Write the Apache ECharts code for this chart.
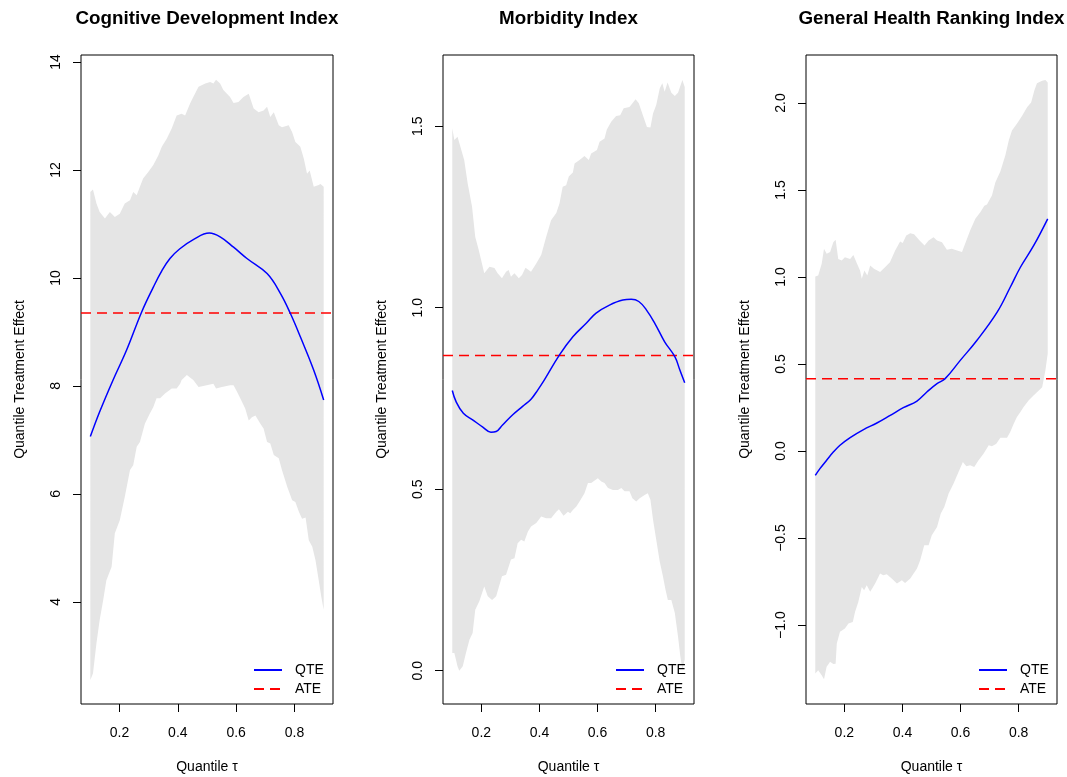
<!DOCTYPE html>
<html>
<head>
<meta charset="utf-8">
<title>Quantile Treatment Effects</title>
<script src="https://cdn.jsdelivr.net/npm/echarts@6/dist/echarts.min.js"></script>
<style>
  html, body { margin: 0; padding: 0; background: #fff; }
  #chart { width: 1067px; height: 777px; }
</style>
</head>
<body>
<div id="chart"></div>
<script>
// ---- data: quantile grid tau, [tau, value] pairs ----
const panelTitles = ['Cognitive Development Index', 'Morbidity Index', 'General Health Ranking Index'];
const xTicks = [0.2, 0.4, 0.6, 0.8];

// Cognitive Development Index
const cogUpper = [[0.100,11.59],[0.109,11.64],[0.121,11.38],[0.132,11.22],[0.150,11.10],[0.167,11.22],[0.184,11.13],[0.201,11.19],[0.218,11.38],[0.236,11.44],[0.247,11.59],[0.259,11.53],[0.270,11.69],[0.281,11.84],[0.298,11.96],[0.316,12.09],[0.333,12.27],[0.345,12.43],[0.362,12.58],[0.379,12.77],[0.396,13.01],[0.413,13.04],[0.425,13.01],[0.442,13.23],[0.453,13.35],[0.471,13.54],[0.494,13.60],[0.511,13.63],[0.522,13.60],[0.531,13.67],[0.545,13.60],[0.556,13.48],[0.579,13.35],[0.591,13.24],[0.608,13.26],[0.625,13.35],[0.643,13.41],[0.660,13.14],[0.677,13.07],[0.694,13.10],[0.706,13.17],[0.717,12.98],[0.729,13.07],[0.746,12.83],[0.757,12.79],[0.780,12.83],[0.792,12.70],[0.803,12.52],[0.820,12.43],[0.832,12.21],[0.843,11.93],[0.852,11.99],[0.866,11.69],[0.883,11.72],[0.889,11.74],[0.900,11.69]];
const cogLower = [[0.100,2.55],[0.109,2.67],[0.121,3.23],[0.132,3.66],[0.144,4.03],[0.155,4.40],[0.173,4.65],[0.184,5.27],[0.201,5.51],[0.218,5.94],[0.236,6.44],[0.247,6.53],[0.259,6.87],[0.270,6.96],[0.287,7.30],[0.304,7.49],[0.316,7.61],[0.327,7.77],[0.339,7.77],[0.356,7.86],[0.379,7.95],[0.396,7.95],[0.408,8.04],[0.413,8.11],[0.431,8.20],[0.453,8.11],[0.471,7.98],[0.499,8.01],[0.522,8.04],[0.531,7.95],[0.551,7.98],[0.579,8.01],[0.591,8.01],[0.603,7.89],[0.614,7.77],[0.631,7.58],[0.643,7.36],[0.654,7.42],[0.666,7.45],[0.683,7.30],[0.694,7.21],[0.706,6.96],[0.717,6.93],[0.729,6.72],[0.746,6.66],[0.757,6.44],[0.775,6.13],[0.792,5.88],[0.803,5.85],[0.815,5.67],[0.826,5.54],[0.838,5.56],[0.849,5.14],[0.861,5.02],[0.872,4.77],[0.883,4.40],[0.892,4.09],[0.900,3.85]];
const cogQte = [[0.100,7.06],[0.132,7.52],[0.178,8.11],[0.224,8.66],[0.276,9.37],[0.316,9.83],[0.345,10.13],[0.373,10.36],[0.407,10.54],[0.453,10.71],[0.508,10.83],[0.545,10.76],[0.591,10.57],[0.637,10.36],[0.706,10.08],[0.752,9.71],[0.786,9.34],[0.820,8.91],[0.866,8.29],[0.900,7.74]];
const cogAte = 9.35;
const cogYTicks = [4, 6, 8, 10, 12, 14];

// Morbidity Index
const morbUpper = [[0.100,1.494],[0.107,1.462],[0.118,1.471],[0.141,1.407],[0.153,1.342],[0.168,1.278],[0.179,1.195],[0.191,1.159],[0.210,1.095],[0.228,1.113],[0.245,1.109],[0.256,1.095],[0.271,1.081],[0.285,1.099],[0.294,1.104],[0.302,1.085],[0.314,1.095],[0.329,1.081],[0.340,1.090],[0.352,1.110],[0.371,1.099],[0.389,1.122],[0.406,1.145],[0.423,1.195],[0.440,1.241],[0.458,1.261],[0.469,1.287],[0.480,1.333],[0.492,1.337],[0.501,1.361],[0.515,1.372],[0.521,1.397],[0.538,1.407],[0.555,1.418],[0.570,1.407],[0.578,1.425],[0.598,1.434],[0.607,1.457],[0.624,1.466],[0.632,1.491],[0.647,1.512],[0.664,1.528],[0.678,1.530],[0.690,1.549],[0.710,1.553],[0.731,1.574],[0.742,1.563],[0.756,1.530],[0.770,1.498],[0.782,1.496],[0.791,1.535],[0.802,1.558],[0.814,1.604],[0.823,1.618],[0.831,1.595],[0.841,1.620],[0.854,1.592],[0.866,1.583],[0.877,1.592],[0.892,1.627],[0.900,1.608]];
const morbLower = [[0.100,0.049],[0.107,0.049],[0.118,0.012],[0.124,0.000],[0.136,0.012],[0.147,0.049],[0.159,0.085],[0.170,0.104],[0.179,0.168],[0.193,0.191],[0.210,0.232],[0.222,0.205],[0.237,0.195],[0.251,0.205],[0.271,0.260],[0.285,0.264],[0.302,0.306],[0.314,0.310],[0.325,0.351],[0.337,0.361],[0.348,0.356],[0.360,0.383],[0.371,0.397],[0.389,0.407],[0.406,0.425],[0.423,0.420],[0.440,0.420],[0.458,0.438],[0.467,0.445],[0.483,0.427],[0.498,0.438],[0.506,0.434],[0.515,0.443],[0.527,0.452],[0.538,0.466],[0.555,0.489],[0.567,0.517],[0.578,0.517],[0.601,0.530],[0.613,0.521],[0.624,0.517],[0.636,0.503],[0.653,0.498],[0.670,0.498],[0.682,0.503],[0.693,0.494],[0.710,0.494],[0.720,0.475],[0.733,0.466],[0.745,0.475],[0.762,0.484],[0.773,0.489],[0.782,0.471],[0.791,0.416],[0.802,0.361],[0.814,0.301],[0.825,0.260],[0.834,0.223],[0.842,0.195],[0.854,0.195],[0.866,0.159],[0.877,0.094],[0.885,0.039],[0.892,0.003],[0.900,0.030]];
const morbQte = [[0.100,0.772],[0.113,0.741],[0.138,0.709],[0.170,0.691],[0.205,0.671],[0.233,0.657],[0.251,0.659],[0.273,0.677],[0.308,0.705],[0.342,0.728],[0.371,0.748],[0.394,0.773],[0.417,0.801],[0.469,0.870],[0.515,0.920],[0.561,0.957],[0.595,0.985],[0.641,1.007],[0.687,1.021],[0.716,1.023],[0.742,1.017],[0.768,0.994],[0.797,0.957],[0.831,0.906],[0.866,0.865],[0.883,0.829],[0.900,0.793]];
const morbAte = 0.868;
const morbYTicks = [0.0, 0.5, 1.0, 1.5];

// General Health Ranking Index
const ghUpper = [[0.100,1.003],[0.110,1.009],[0.122,1.076],[0.130,1.162],[0.139,1.133],[0.151,1.143],[0.162,1.200],[0.170,1.214],[0.179,1.104],[0.191,1.095],[0.202,1.114],[0.220,1.104],[0.231,1.127],[0.243,1.079],[0.254,1.037],[0.260,0.990],[0.269,1.037],[0.279,1.009],[0.289,1.066],[0.302,1.047],[0.323,1.028],[0.340,1.056],[0.357,1.085],[0.375,1.152],[0.392,1.204],[0.401,1.195],[0.413,1.238],[0.427,1.251],[0.440,1.245],[0.459,1.209],[0.476,1.181],[0.490,1.209],[0.507,1.228],[0.519,1.209],[0.536,1.200],[0.553,1.156],[0.570,1.162],[0.588,1.152],[0.605,1.143],[0.620,1.209],[0.633,1.267],[0.651,1.334],[0.668,1.372],[0.682,1.410],[0.691,1.416],[0.708,1.468],[0.720,1.544],[0.737,1.606],[0.754,1.698],[0.766,1.784],[0.777,1.841],[0.794,1.880],[0.812,1.927],[0.829,1.975],[0.843,2.003],[0.854,2.071],[0.863,2.113],[0.881,2.128],[0.892,2.132],[0.900,2.118]];
const ghLower = [[0.100,-1.278],[0.110,-1.259],[0.122,-1.288],[0.130,-1.312],[0.139,-1.240],[0.151,-1.211],[0.162,-1.224],[0.170,-1.222],[0.174,-1.106],[0.185,-1.039],[0.202,-1.020],[0.214,-0.991],[0.229,-0.982],[0.237,-0.924],[0.248,-0.867],[0.260,-0.781],[0.268,-0.800],[0.277,-0.771],[0.289,-0.809],[0.306,-0.761],[0.323,-0.704],[0.334,-0.714],[0.346,-0.708],[0.363,-0.733],[0.381,-0.761],[0.398,-0.742],[0.409,-0.758],[0.427,-0.733],[0.450,-0.675],[0.461,-0.627],[0.475,-0.541],[0.490,-0.541],[0.501,-0.484],[0.519,-0.436],[0.532,-0.359],[0.544,-0.321],[0.559,-0.244],[0.576,-0.187],[0.593,-0.120],[0.608,-0.063],[0.620,-0.088],[0.633,-0.082],[0.647,-0.092],[0.662,-0.053],[0.679,-0.015],[0.697,0.033],[0.708,0.027],[0.723,0.042],[0.737,0.077],[0.760,0.077],[0.771,0.109],[0.783,0.157],[0.794,0.195],[0.806,0.224],[0.817,0.253],[0.834,0.291],[0.852,0.320],[0.863,0.338],[0.881,0.367],[0.892,0.463],[0.900,0.559]];
const ghQte = [[0.100,-0.140],[0.116,-0.101],[0.139,-0.053],[0.162,-0.006],[0.185,0.033],[0.220,0.077],[0.266,0.123],[0.312,0.161],[0.358,0.205],[0.403,0.249],[0.450,0.287],[0.484,0.339],[0.519,0.387],[0.547,0.416],[0.599,0.521],[0.656,0.635],[0.726,0.798],[0.771,0.941],[0.806,1.056],[0.852,1.181],[0.900,1.334]];
const ghAte = 0.416;
const ghYTicks = [-1.0, -0.5, 0.0, 0.5, 1.0, 1.5, 2.0];

// ---- layout ----
const X_MIN = 0.068, X_MAX = 0.932;
const FONT = '"Liberation Sans", Arial, Helvetica, sans-serif';
const panels = [
  { upper: cogUpper, lower: cogLower, qte: cogQte, ate: cogAte, yTicks: cogYTicks, yMin: 2.106, yMax: 14.13, left: 81, width: 252, digits: 0 },
  { upper: morbUpper, lower: morbLower, qte: morbQte, ate: morbAte, yTicks: morbYTicks, yMin: -0.0917, yMax: 1.696, left: 443, width: 251, digits: 1 },
  { upper: ghUpper, lower: ghLower, qte: ghQte, ate: ghAte, yTicks: ghYTicks, yMin: -1.4535, yMax: 2.2755, left: 806, width: 251, digits: 1 }
];
const GRID_TOP = 55, GRID_H = 649;

const fmt = (v, d) => {
  const s = Math.abs(v).toFixed(d);
  return (v < 0 ? '\u2212' : '') + s;
};

const grid = [], xAxis = [], yAxis = [], series = [], title = [], legend = [];

panels.forEach((p, i) => {
  grid.push({ left: p.left, top: GRID_TOP, width: p.width, height: GRID_H,
    containLabel: false, outerBoundsMode: 'none',
    show: true, borderColor: '#000', borderWidth: 1, backgroundColor: 'transparent' });

  title.push({ text: panelTitles[i], left: p.left + p.width / 2, top: 9, textAlign: 'center', padding: 0,
    textStyle: { fontFamily: FONT, fontWeight: 'bold', fontSize: 18.8, color: '#000' } });

  xAxis.push({ type: 'value', gridIndex: i, min: X_MIN, max: X_MAX,
    axisLine: { show: false, onZero: false }, splitLine: { show: false },
    axisTick: { show: true, length: 8, customValues: xTicks, lineStyle: { color: '#000', width: 1 } },
    axisLabel: { customValues: xTicks, formatter: v => v.toFixed(1), margin: 22,
      color: '#000', fontSize: 14, fontFamily: FONT },
    name: 'Quantile \u03C4', nameLocation: 'middle', nameGap: 56,
    nameTextStyle: { color: '#000', fontSize: 14, fontFamily: FONT } });

  yAxis.push({ type: 'value', gridIndex: i, min: p.yMin, max: p.yMax,
    axisLine: { show: false, onZero: false }, splitLine: { show: false },
    axisTick: { show: true, length: 8, customValues: p.yTicks, lineStyle: { color: '#000', width: 1 } },
    axisLabel: { customValues: p.yTicks, formatter: v => fmt(v, p.digits), rotate: 90, margin: 18,
      color: '#000', fontSize: 14, fontFamily: FONT },
    name: 'Quantile Treatment Effect', nameLocation: 'middle', nameRotate: 90, nameGap: 54,
    nameTextStyle: { color: '#000', fontSize: 14, fontFamily: FONT } });

  // confidence band drawn as one polygon: upper edge then lower edge reversed
  series.push({ type: 'custom', xAxisIndex: i, yAxisIndex: i, z: 1, silent: true,
    data: [p.qte[0]],
    renderItem: (params, api) => {
      const pts = p.upper.map(d => api.coord(d))
        .concat(p.lower.slice().reverse().map(d => api.coord(d)));
      return { type: 'polygon', shape: { points: pts }, style: { fill: '#E5E5E5' } };
    } });

  series.push({ name: 'QTE', type: 'line', xAxisIndex: i, yAxisIndex: i, z: 3,
    data: p.qte, symbol: 'none', smooth: 0.4,
    lineStyle: { color: '#0000FF', width: 1.5 }, itemStyle: { color: '#0000FF' } });

  series.push({ name: 'ATE', type: 'line', xAxisIndex: i, yAxisIndex: i, z: 2,
    data: [[X_MIN, p.ate], [X_MAX, p.ate]], symbol: 'none',
    lineStyle: { color: '#FF0000', width: 1.5, type: [10, 6] }, itemStyle: { color: '#FF0000' } });

  // legend keeps only the line sample (symbol hidden)
  legend.push({ orient: 'vertical', left: p.left + 172, top: 663, padding: 0,
    itemWidth: 28, itemHeight: 14, itemGap: 5,
    data: ['QTE', 'ATE'], selectedMode: false,
    itemStyle: { opacity: 0 },
    textStyle: { color: '#000', fontSize: 14, fontFamily: FONT, padding: [0, 0, 0, 8] } });
});

// keep each legend bound to its own panel's series
legend.forEach((lg, i) => { lg.seriesIndex = [i * 3 + 1, i * 3 + 2]; });

const chart = echarts.init(document.getElementById('chart'), null, { renderer: 'canvas' });
chart.setOption({ animation: false, backgroundColor: '#fff', title, grid, xAxis, yAxis, series, legend });
</script>
</body>
</html>
